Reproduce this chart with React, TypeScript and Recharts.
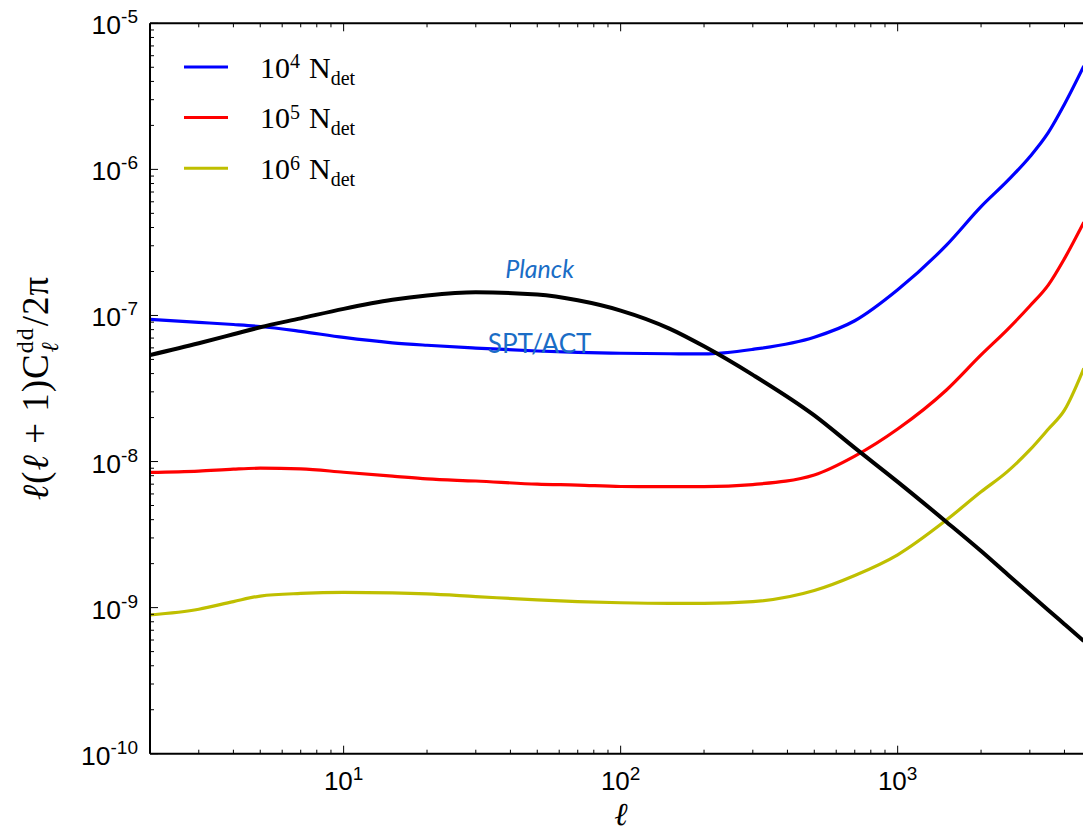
import { LineChart, Line, XAxis, YAxis, ReferenceDot } from 'recharts'

// multipoles
const ELL = [2, 3, 4, 5, 7, 10, 15, 20, 30, 50, 70, 100, 150, 200, 300, 500, 700, 1000, 1500, 2000, 2500, 3000, 3500, 4000, 4700]

// lensing deflection power (black)
const SIGNAL = [
	5.36e-8, 6.45e-8, 7.43e-8, 8.3e-8, 9.55e-8, 1.11e-7, 1.28e-7, 1.37e-7, 1.44e-7, 1.39e-7, 1.27e-7, 1.08e-7,
	8.13e-8, 6.15e-8, 3.92e-8, 2.07e-8, 1.24e-8, 7.26e-9, 3.86e-9, 2.44e-9, 1.68e-9, 1.24e-9, 9.6e-10, 7.7e-10, 5.9e-10,
]
// reconstruction noise for 10^4, 10^5, 10^6 detectors
const NOISE_1E4 = [
	9.4e-8, 8.97e-8, 8.67e-8, 8.4e-8, 7.78e-8, 7.07e-8, 6.5e-8, 6.25e-8, 5.98e-8, 5.71e-8, 5.58e-8, 5.51e-8,
	5.47e-8, 5.45e-8, 5.86e-8, 7.1e-8, 9.2e-8, 1.5e-7, 3.03e-7, 5.56e-7, 8.4e-7, 1.22e-6, 1.79e-6, 2.79e-6, 5.1e-6,
]
const NOISE_1E5 = [
	8.43e-9, 8.6e-9, 8.87e-9, 9.0e-9, 8.9e-9, 8.45e-9, 7.95e-9, 7.6e-9, 7.36e-9, 7.0e-9, 6.9e-9, 6.75e-9,
	6.73e-9, 6.73e-9, 6.96e-9, 8.1e-9, 1.09e-8, 1.67e-8, 3.09e-8, 5.37e-8, 8.07e-8, 1.16e-7, 1.62e-7, 2.45e-7, 4.35e-7,
]
const NOISE_1E6 = [
	8.9e-10, 9.75e-10, 1.1e-9, 1.2e-9, 1.25e-9, 1.27e-9, 1.26e-9, 1.24e-9, 1.19e-9, 1.13e-9, 1.1e-9, 1.08e-9,
	1.07e-9, 1.07e-9, 1.1e-9, 1.31e-9, 1.66e-9, 2.3e-9, 3.98e-9, 6.2e-9, 8.6e-9, 1.2e-8, 1.67e-8, 2.25e-8, 4.35e-8,
]

const SERIES = [
	{ key: 'n4', exp: '4', color: '#0000ff', values: NOISE_1E4 },
	{ key: 'n5', exp: '5', color: '#ff0000', values: NOISE_1E5 },
	{ key: 'n6', exp: '6', color: '#bfbf00', values: NOISE_1E6 },
]

const NOTES = [
	{ text: 'Planck', l: 51, v: 1.8e-7, italic: true },
	{ text: 'SPT/ACT', l: 51, v: 5.56e-8, italic: false },
]

const X_DOMAIN = [2, 5000]
const Y_DOMAIN = [1e-10, 1e-5]
const X_DECADES = [1, 10, 100, 1000]
const Y_DECADES = [1e-10, 1e-9, 1e-8, 1e-7, 1e-6]

const X_TICKS = X_DECADES.flatMap((d) => [1, 2, 3, 4, 5, 6, 7, 8, 9].map((m) => m * d)).filter(
	(v) => v >= X_DOMAIN[0] && v <= X_DOMAIN[1]
)
const Y_TICKS = [...Y_DECADES.flatMap((d) => [1, 2, 3, 4, 5, 6, 7, 8, 9].map((m) => m * d)), 1e-5]

const data = ELL.map((l, i) => ({
	l,
	signal: SIGNAL[i],
	n4: NOISE_1E4[i],
	n5: NOISE_1E5[i],
	n6: NOISE_1E6[i],
}))

const TICK_FONT = "'Liberation Sans', Arial, sans-serif"
const MATH_FONT = "'Liberation Serif', 'DejaVu Serif', serif"
const NOTE_FONT = "Lato, 'Open Sans', sans-serif"

const isMajor = (v: number) => Math.abs(Math.log10(v) - Math.round(Math.log10(v))) < 1e-6
const expOf = (v: number) => Math.round(Math.log10(v))

const BottomTick = ({ x, y, payload }: any) => {
	const major = isMajor(payload.value)
	return (
		<g>
			<line x1={x} x2={x} y1={y} y2={y - (major ? 8 : 4)} stroke='#000' strokeWidth={1} />
			{major && (
				<text x={x} y={y + 36} textAnchor='middle' fontFamily={TICK_FONT} fontSize={26} fill='#000'>
					10
					<tspan dy={-10} fontSize={19}>
						{expOf(payload.value)}
					</tspan>
				</text>
			)}
		</g>
	)
}

const TopTick = ({ x, y, payload }: any) => (
	<line x1={x} x2={x} y1={y} y2={y + (isMajor(payload.value) ? 8 : 4)} stroke='#000' strokeWidth={1} />
)

const LeftTick = ({ x, y, payload }: any) => {
	const major = isMajor(payload.value)
	return (
		<g>
			<line x1={x} x2={x + (major ? 8 : 4)} y1={y} y2={y} stroke='#000' strokeWidth={1} />
			{major && (
				<text x={x - 12} y={y + 11} textAnchor='end' fontFamily={TICK_FONT} fontSize={26.5} fill='#000'>
					10
					<tspan dy={-11} fontSize={19}>
						{expOf(payload.value)}
					</tspan>
				</text>
			)}
		</g>
	)
}

const RightTick = ({ x, y, payload }: any) => (
	<line x1={x} x2={x - (isMajor(payload.value) ? 8 : 4)} y1={y} y2={y} stroke='#000' strokeWidth={1} />
)

const Note = ({ text, italic }: { text: string; italic: boolean }) => (props: any) =>
	(
		<text
			x={props.cx}
			y={props.cy}
			textAnchor='middle'
			fontFamily={NOTE_FONT}
			fontStyle={italic ? 'italic' : 'normal'}
			fontSize={italic ? 25 : 26}
			fill='#1a6dc6'
		>
			{text}
		</text>
	)

const axisLine = { stroke: '#000', strokeWidth: 2 }

export default function App() {
	return (
		<div style={{ position: 'fixed', left: 0, top: 0, width: 1083, height: 831, overflow: 'hidden', background: '#fff' }}>
			<LineChart
				width={1100}
				height={831}
				data={data}
				margin={{ top: 22.3, left: 149, right: 7.7, bottom: 76.3 }}
			>
				<XAxis
					dataKey='l'
					type='number'
					scale='log'
					domain={X_DOMAIN}
					allowDataOverflow
					ticks={X_TICKS}
					interval={0}
					height={1}
					tickSize={0}
					tickMargin={0}
					tick={<BottomTick />}
					axisLine={axisLine}
				/>
				<XAxis
					xAxisId='top'
					orientation='top'
					dataKey='l'
					type='number'
					scale='log'
					domain={X_DOMAIN}
					allowDataOverflow
					ticks={X_TICKS}
					interval={0}
					height={1}
					tickSize={0}
					tickMargin={0}
					tick={<TopTick />}
					axisLine={axisLine}
				/>
				<YAxis
					type='number'
					scale='log'
					domain={Y_DOMAIN}
					allowDataOverflow
					ticks={Y_TICKS}
					interval={0}
					width={1}
					tickSize={0}
					tickMargin={0}
					tick={<LeftTick />}
					axisLine={axisLine}
				/>
				<YAxis
					yAxisId='right'
					orientation='right'
					type='number'
					scale='log'
					domain={Y_DOMAIN}
					allowDataOverflow
					ticks={Y_TICKS}
					interval={0}
					width={1}
					tickSize={0}
					tickMargin={0}
					tick={<RightTick />}
					axisLine={axisLine}
				/>
				{SERIES.map((s) => (
					<Line
						key={s.key}
						dataKey={s.key}
						type='monotone'
						stroke={s.color}
						strokeWidth={3.2}
						dot={false}
						isAnimationActive={false}
					/>
				))}
				<Line dataKey='signal' type='monotone' stroke='#000' strokeWidth={4} dot={false} isAnimationActive={false} />
				{NOTES.map((n) => (
					<ReferenceDot key={n.text} x={n.l} y={n.v} r={0} ifOverflow='visible' shape={Note(n)} />
				))}
			</LineChart>
			<svg width={1083} height={831} style={{ position: 'absolute', left: 0, top: 0, pointerEvents: 'none' }}>
				{SERIES.map((s, i) => (
					<g key={s.key}>
						<line x1={184} x2={228} y1={67 + i * 50.6} y2={67 + i * 50.6} stroke={s.color} strokeWidth={3} />
						<text x={260} y={77.7 + i * 50.6} fontFamily={MATH_FONT} fontSize={30} fill='#000'>
							10
							<tspan dy={-9.4} fontSize={20}>
								{s.exp}
							</tspan>
							<tspan dx={9} dy={9.4}>
								N
							</tspan>
							<tspan dy={7} fontSize={20}>
								det
							</tspan>
						</text>
					</g>
				))}
				<text
					transform='translate(48,388) rotate(-90)'
					textAnchor='middle'
					fontFamily={MATH_FONT}
					fontSize={37}
					letterSpacing={1}
					fill='#000'
				>
					<tspan fontStyle='italic'>ℓ</tspan>(<tspan fontStyle='italic'>ℓ</tspan> + 1)C
					<tspan dy={-15} fontSize={24}>
						dd
					</tspan>
					<tspan dx={-25} dy={25} fontSize={24} fontStyle='italic'>
						ℓ
					</tspan>
					<tspan dx={15} dy={-10}>
						/2π
					</tspan>
				</text>
				<text x={621} y={825} textAnchor='middle' fontFamily={MATH_FONT} fontStyle='italic' fontSize={32} fill='#000'>
					ℓ
				</text>
			</svg>
		</div>
	)
}
